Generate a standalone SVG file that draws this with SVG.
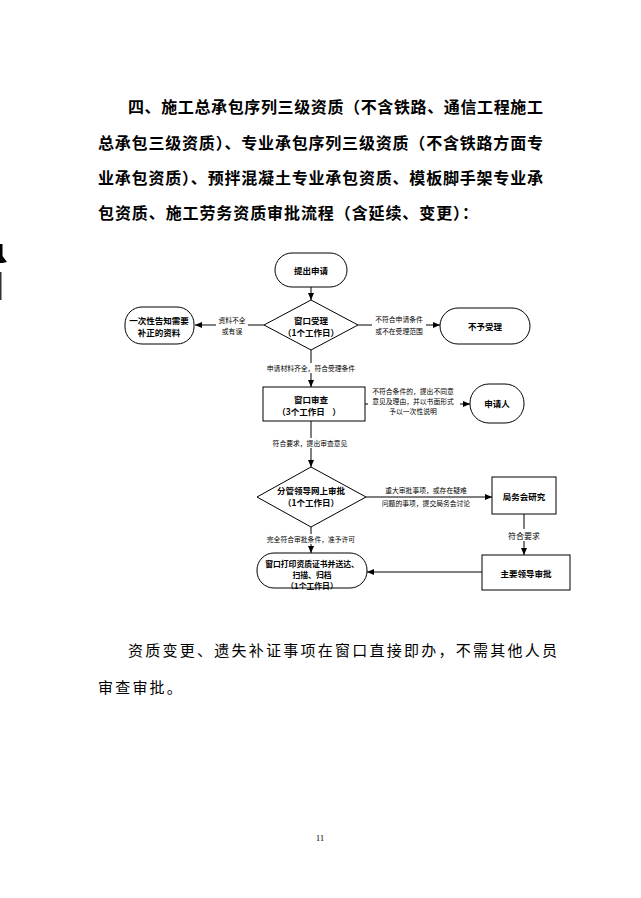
<svg xmlns="http://www.w3.org/2000/svg" width="641" height="898" viewBox="0 0 641 898">
<defs>
<style>
.t{font-family:"Noto Sans CJK SC","Noto Sans",sans-serif;fill:#000}
.title{font-size:16px;font-weight:bold}
.para{font-size:15px}
.n{font-size:8.5px;font-weight:bold;text-anchor:middle}
.np{font-size:7.8px;font-weight:bold;text-anchor:middle}
.l{font-size:6.8px;text-anchor:middle}
.shape{fill:#fff;stroke:#000;stroke-width:1}
.c{stroke:#000;stroke-width:1;fill:none}
.bg{fill:#fff}
</style>
<marker id="ah" markerWidth="7" markerHeight="6" refX="7" refY="3" orient="auto" markerUnits="userSpaceOnUse">
<path d="M0,0 L7,3 L0,6 Z" fill="#000"/>
</marker>
</defs>
<rect width="641" height="898" fill="#fff"/>
<path d="M0,244 L2.5,244 L2.5,256 L7,262 L2.5,263 L0,263 Z" fill="#000"/>
<rect x="0" y="272" width="1.5" height="28" fill="#333"/>

<g id="title">
<text class="t title" x="128" y="106" dominant-baseline="central" textLength="415" lengthAdjust="spacing">四、施工总承包序列三级资质（不含铁路、通信工程施工</text>
<text class="t title" x="98" y="142" dominant-baseline="central" textLength="445" lengthAdjust="spacing">总承包三级资质）、专业承包序列三级资质（不含铁路方面专</text>
<text class="t title" x="98" y="177" dominant-baseline="central" textLength="445" lengthAdjust="spacing">业承包资质）、预拌混凝土专业承包资质、模板脚手架专业承</text>
<text class="t title" x="98" y="212" dominant-baseline="central" textLength="380" lengthAdjust="spacing">包资质、施工劳务资质审批流程（含延续、变更）：</text>
</g>

<g id="connectors">
<line class="c" x1="311" y1="287" x2="311" y2="300" marker-end="url(#ah)"/>
<line class="c" x1="264" y1="325" x2="195" y2="325" marker-end="url(#ah)"/>
<line class="c" x1="358" y1="325" x2="440" y2="325" marker-end="url(#ah)"/>
<line class="c" x1="311" y1="350" x2="311" y2="387" marker-end="url(#ah)"/>
<line class="c" x1="365" y1="404" x2="470" y2="404" marker-end="url(#ah)"/>
<line class="c" x1="311" y1="421" x2="311" y2="467" marker-end="url(#ah)"/>
<line class="c" x1="366" y1="497" x2="492" y2="497" marker-end="url(#ah)"/>
<line class="c" x1="524" y1="514" x2="524" y2="555" marker-end="url(#ah)"/>
<line class="c" x1="482" y1="572" x2="367" y2="572" marker-end="url(#ah)"/>
<line class="c" x1="311" y1="527" x2="311" y2="553" marker-end="url(#ah)"/>
</g>

<g id="labels">
<rect class="bg" x="216" y="315" width="32" height="21"/>
<text class="t l" x="232" y="320" dominant-baseline="central">资料不全</text>
<text class="t l" x="232" y="331" dominant-baseline="central">或有误</text>
<rect class="bg" x="372" y="314" width="54" height="22"/>
<text class="t l" x="399" y="319" dominant-baseline="central">不符合申请条件</text>
<text class="t l" x="399" y="331" dominant-baseline="central">或不在受理范围</text>
<rect class="bg" x="263" y="363" width="96" height="10"/>
<text class="t l" x="311" y="368" dominant-baseline="central">申请材料齐全，符合受理条件</text>
<rect class="bg" x="368" y="386" width="92" height="31"/>
<text class="t l" x="413" y="391" dominant-baseline="central">不符合条件的，提出不同意</text>
<text class="t l" x="413" y="401" dominant-baseline="central">意见及理由，并以书面形式</text>
<text class="t l" x="413" y="411" dominant-baseline="central">予以一次性说明</text>
<rect class="bg" x="269" y="438" width="82" height="10"/>
<text class="t l" x="310" y="443" dominant-baseline="central">符合要求，提出审查意见</text>
<text class="t l" x="426" y="490" dominant-baseline="central">重大审批事项，或存在疑难</text>
<text class="t l" x="426" y="503" dominant-baseline="central">问题的事项，提交局务会讨论</text>
<rect class="bg" x="507" y="529" width="34" height="12"/>
<text class="t n" style="font-weight:normal;font-size:8px" x="524" y="535" dominant-baseline="central">符合要求</text>
<rect class="bg" x="262" y="534" width="98" height="10"/>
<text class="t l" x="311" y="539" dominant-baseline="central">完全符合审批条件，准予许可</text>
</g>

<g id="n-start">
<rect class="shape" x="275" y="253" width="72" height="34" rx="17"/>
<text class="t n" x="311" y="270" dominant-baseline="central">提出申请</text>
</g>
<g id="n-accept">
<polygon class="shape" points="311,300 358,325 311,350 264,325"/>
<text class="t n" x="311" y="320" dominant-baseline="central">窗口受理</text>
<text class="t n" x="311" y="332" dominant-baseline="central">（1个工作日）</text>
</g>
<g id="n-notify">
<rect class="shape" x="125" y="307" width="69" height="37" rx="17"/>
<text class="t n" x="159" y="320" dominant-baseline="central">一次性告知需要</text>
<text class="t n" x="159" y="332" dominant-baseline="central">补正的资料</text>
</g>
<g id="n-reject">
<rect class="shape" x="440" y="308" width="90" height="36" rx="18"/>
<text class="t n" x="485" y="326" dominant-baseline="central">不予受理</text>
</g>
<g id="n-review">
<rect class="shape" x="263" y="387" width="102" height="34"/>
<text class="t n" x="311" y="399" dominant-baseline="central">窗口审查</text>
<text class="t n" x="309" y="411" dominant-baseline="central" xml:space="preserve">（3个工作日    ）</text>
</g>
<g id="n-applicant">
<rect class="shape" x="470" y="384" width="54" height="39" rx="19"/>
<text class="t n" x="497" y="403" dominant-baseline="central">申请人</text>
</g>
<g id="n-leader">
<polygon class="shape" points="311,467 366,497 311,527 257,497"/>
<text class="t n" x="311" y="490" dominant-baseline="central">分管领导网上审批</text>
<text class="t n" x="311" y="502" dominant-baseline="central">（1个工作日）</text>
</g>
<g id="n-meeting">
<rect class="shape" x="492" y="477" width="64" height="37"/>
<text class="t n" x="524" y="496" dominant-baseline="central">局务会研究</text>
</g>
<g id="n-chief">
<rect class="shape" x="482" y="555" width="88" height="35"/>
<text class="t n" x="526" y="573" dominant-baseline="central">主要领导审批</text>
</g>
<g id="n-print">
<rect class="shape" x="257" y="553" width="110" height="35" rx="17"/>
<text class="t np" x="312" y="563" dominant-baseline="central">窗口打印资质证书并送达、</text>
<text class="t np" x="312" y="574" dominant-baseline="central">扫描、归档</text>
<text class="t np" x="312" y="585" dominant-baseline="central">（1个工作日）</text>
</g>

<g id="footer">
<text class="t para" x="128" y="649" dominant-baseline="central" textLength="429" lengthAdjust="spacing">资质变更、遗失补证事项在窗口直接即办，不需其他人员</text>
<text class="t para" x="98" y="686" dominant-baseline="central" letter-spacing="2.2">审查审批。</text>
<text x="320" y="838" fill="#000" font-family="Liberation Serif, serif" font-size="9" text-anchor="middle" dominant-baseline="central">11</text>
</g>
</svg>
